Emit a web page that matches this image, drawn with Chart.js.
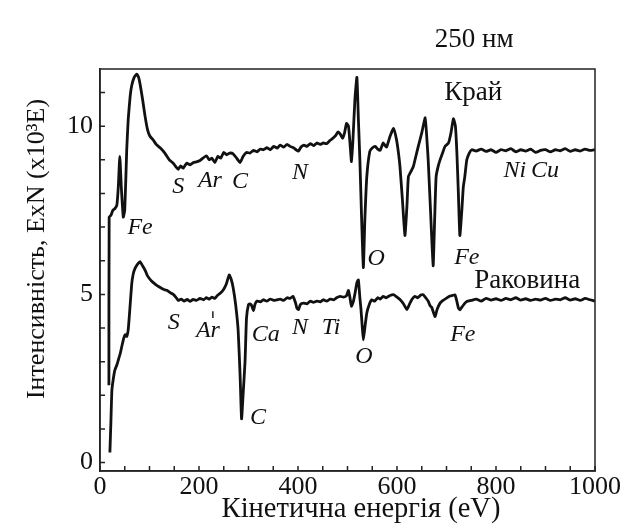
<!DOCTYPE html>
<html>
<head>
<meta charset="utf-8">
<script src="https://cdn.jsdelivr.net/npm/chart.js@4"></script>
<style>
html, body { margin: 0; padding: 0; background: #fff; }
</style>
</head>
<body>
<canvas id="spektr" width="627" height="525"></canvas>
<script>
// Край (edge) - energy (eV) and intensity (x10^3)
const energiaKrai = [18, 18.5, 22, 26, 30, 34, 37, 40, 43, 47, 50, 54, 57, 61, 64, 69, 74, 78, 81, 86, 91, 96, 101, 107, 114, 122, 131, 140, 148, 153, 158, 163, 168, 175, 182, 189, 195, 202, 208, 215, 221, 226, 232, 238, 244, 250, 256, 262, 269, 276, 283, 289, 296, 303, 310, 317, 324, 330, 337, 344, 351, 358, 364, 371, 378, 384, 391, 396, 401, 406, 412, 418, 425, 432, 438, 445, 451, 458, 465, 471, 476, 481, 486, 490, 494, 498, 502, 505, 508, 511, 515, 519, 522, 525, 528, 532, 535, 539, 545, 550, 556, 561, 566, 572, 576, 579, 586, 593, 599, 603, 606, 611, 616, 620, 623, 628, 633, 638, 643, 650, 657, 660, 663, 668, 673, 676, 679, 683, 687, 692, 697, 704, 709, 714, 718, 721, 724, 727, 731, 734, 737, 741, 746, 751, 760, 770, 780, 790, 800, 810, 820, 830, 840, 850, 860, 870, 880, 890, 900, 910, 920, 930, 940, 950, 960, 970, 980, 990, 1000];
const intensKrai = [2.3, 7.3, 7.35, 7.5, 7.55, 7.65, 8.2, 9.1, 8.2, 7.3, 7.5, 9.3, 10.2, 10.9, 11.2, 11.45, 11.55, 11.45, 11.25, 10.8, 10.3, 9.9, 9.7, 9.6, 9.45, 9.35, 9.2, 9.0, 8.9, 8.8, 8.72, 8.82, 8.75, 8.9, 8.85, 8.92, 8.94, 8.98, 9.05, 9.12, 9.0, 9.05, 8.92, 9.1, 9.05, 9.22, 9.15, 9.2, 9.18, 9.05, 8.92, 9.1, 9.22, 9.2, 9.28, 9.24, 9.32, 9.3, 9.36, 9.3, 9.4, 9.35, 9.44, 9.38, 9.46, 9.4, 9.36, 9.3, 9.26, 9.38, 9.44, 9.4, 9.48, 9.42, 9.5, 9.46, 9.5, 9.48, 9.58, 9.65, 9.72, 9.83, 9.75, 9.64, 9.8, 10.08, 10.0, 9.5, 8.95, 9.6, 10.8, 11.45, 10.2, 9.0, 7.5, 5.8, 7.2, 8.5, 9.25, 9.35, 9.4, 9.32, 9.28, 9.5, 9.42, 9.38, 9.7, 9.93, 9.6, 9.2, 8.8, 7.8, 6.75, 7.6, 8.5, 8.65, 8.8, 9.1, 9.4, 9.8, 10.25, 9.7, 9.0, 7.4, 5.85, 7.2, 8.5, 8.8, 9.0, 9.2, 9.4, 9.5, 9.8, 10.22, 10.0, 9.2, 8.0, 6.75, 7.5, 8.2, 8.5, 9.0, 9.2, 9.3, 9.26, 9.32, 9.25, 9.3, 9.22, 9.3, 9.27, 9.33, 9.24, 9.3, 9.26, 9.32, 9.22, 9.28, 9.3, 9.24, 9.3, 9.27, 9.33, 9.25, 9.3, 9.26, 9.32, 9.28, 9.3];

// Раковина (shell)
const energiaRakovyna = [20, 22, 24, 27, 30, 34, 37, 41, 44, 48, 51, 54, 57, 60, 64, 67, 71, 76, 81, 86, 91, 96, 104, 112, 120, 128, 135, 142, 148, 153, 158, 164, 170, 176, 182, 188, 195, 202, 209, 215, 221, 226, 232, 238, 244, 249, 255, 261, 265, 269, 274, 279, 283, 286, 289, 293, 296, 300, 303, 306, 310, 313, 317, 324, 330, 337, 344, 351, 358, 364, 371, 378, 384, 390, 395, 398, 401, 405, 411, 418, 425, 431, 438, 445, 451, 458, 465, 472, 478, 485, 492, 498, 502, 505, 508, 512, 516, 519, 522, 525, 527, 530, 532, 535, 539, 544, 549, 555, 561, 566, 572, 578, 585, 593, 600, 606, 613, 620, 625, 630, 636, 642, 648, 653, 658, 663, 667, 670, 674, 677, 681, 687, 693, 700, 707, 712, 717, 720, 724, 727, 731, 736, 741, 750, 760, 770, 780, 790, 800, 810, 820, 830, 840, 850, 860, 870, 880, 890, 900, 910, 920, 930, 940, 950, 960, 970, 980, 990, 1000];
const intensRakovyna = [0.3, 1.2, 2.15, 2.5, 2.75, 2.9, 3.05, 3.25, 3.45, 3.7, 3.8, 3.75, 3.95, 4.5, 5.3, 5.6, 5.78, 5.9, 5.97, 5.85, 5.72, 5.55, 5.4, 5.3, 5.22, 5.15, 5.12, 5.05, 5.0, 4.92, 4.82, 4.86, 4.8, 4.85, 4.79, 4.85, 4.82, 4.88, 4.84, 4.9, 4.86, 4.92, 4.88, 4.98, 5.05, 5.13, 5.3, 5.58, 5.45, 5.2, 4.7, 3.95, 2.6, 1.3, 2.0, 3.0, 4.3, 4.7, 4.72, 4.68, 4.52, 4.7, 4.8, 4.78, 4.84, 4.8, 4.86, 4.82, 4.84, 4.86, 4.82, 4.9, 4.88, 4.94, 4.75, 4.58, 4.55, 4.7, 4.74, 4.72, 4.8, 4.76, 4.8, 4.78, 4.84, 4.8, 4.86, 4.84, 4.9, 4.94, 4.92, 4.96, 5.12, 4.9, 4.65, 4.8, 5.1, 5.35, 5.43, 4.9, 4.6, 4.0, 3.65, 4.0, 4.45, 4.7, 4.84, 4.8, 4.9, 4.86, 4.94, 4.9, 4.96, 4.99, 4.92, 4.85, 4.72, 4.55, 4.7, 4.85, 4.94, 4.9, 4.98, 4.99, 4.9, 4.8, 4.66, 4.62, 4.45, 4.34, 4.55, 4.74, 4.82, 4.89, 4.95, 4.97, 4.99, 4.85, 4.6, 4.54, 4.62, 4.72, 4.79, 4.82, 4.86, 4.8, 4.88, 4.83, 4.87, 4.82, 4.88, 4.84, 4.9, 4.83, 4.87, 4.82, 4.86, 4.83, 4.88, 4.82, 4.86, 4.84, 4.9, 4.83, 4.87, 4.82, 4.88, 4.84, 4.8];

const ticksX = [0, 200, 400, 600, 800, 1000];
const ticksY = [0, 5, 10];

// підписи елементів (в координатах даних)
const elementos = [
    { t: 'Fe', e: 81, i: 6.97 }, { t: 'S', e: 158, i: 8.19 }, { t: 'Ar', e: 222, i: 8.37 },
    { t: 'C', e: 283, i: 8.34 }, { t: 'N', e: 404, i: 8.61 }, { t: 'O', e: 558, i: 6.05 },
    { t: 'Fe', e: 741, i: 6.08 }, { t: 'Ni', e: 838, i: 8.69 }, { t: 'Cu', e: 899, i: 8.69 },
    { t: 'S', e: 149, i: 4.15 }, { t: 'Ar', e: 218, i: 3.92 }, { t: 'Ca', e: 335, i: 3.8 },
    { t: 'N', e: 404, i: 4.0 }, { t: 'Ti', e: 467, i: 4.0 }, { t: 'C', e: 319, i: 1.34 },
    { t: 'O', e: 533, i: 3.15 }, { t: 'Fe', e: 733, i: 3.8 }
];
const nazvy = [
    { t: 'Край', e: 754, i: 10.98 }, { t: 'Раковина', e: 863, i: 5.40 }, { t: '250 нм', e: 756, i: 12.55 }
];
const tituloX = 'Кінетична енергія (eV)';
const tituloY = 'Інтенсивність, ExN (x10³E)';

const caixa = {
    id: 'caixa',
    afterDraw(chart) {
        const { ctx, chartArea: a, scales: { x, y } } = chart;
        ctx.save();
        ctx.strokeStyle = '#222';
        ctx.lineWidth = 1.5;
        ctx.strokeRect(a.left, a.top, a.right - a.left, a.bottom - a.top);
        ctx.beginPath();
        for (let v = 0; v <= 1000; v += 50) {
            let px = x.getPixelForValue(v);
            ctx.moveTo(px, a.bottom);
            ctx.lineTo(px, a.bottom - 5);
        }
        for (let v = 0; v <= 11; v++) {
            let py = y.getPixelForValue(v);
            ctx.moveTo(a.left, py);
            ctx.lineTo(a.left + 5, py);
        }
        // маленька риска над Ar
        ctx.moveTo(x.getPixelForValue(228), y.getPixelForValue(4.3));
        ctx.lineTo(x.getPixelForValue(228), y.getPixelForValue(4.5));
        ctx.stroke();

        ctx.fillStyle = '#111';
        ctx.textAlign = 'center';
        ctx.textBaseline = 'middle';
        ctx.font = 'italic 24px "Liberation Serif"';
        elementos.forEach(r => ctx.fillText(r.t, x.getPixelForValue(r.e), y.getPixelForValue(r.i)));
        ctx.font = '27px "Liberation Serif"';
        nazvy.forEach(r => ctx.fillText(r.t, x.getPixelForValue(r.e), y.getPixelForValue(r.i)));

        // назви осей
        ctx.font = '28.5px "Liberation Serif"';
        ctx.fillText(tituloX, a.left + 261, 510);
        ctx.translate(37, 249);
        ctx.rotate(-Math.PI / 2);
        ctx.font = '26px "Liberation Serif"';
        ctx.fillText(tituloY, 0, 0);
        ctx.restore();
    }
};

const fonte = { family: '"Liberation Serif"', size: 26 };

new Chart(document.getElementById('spektr').getContext('2d'), {
    type: 'line',
    data: {
        datasets: [{
            label: 'Край',
            data: energiaKrai.map((e, k) => ({ x: e, y: intensKrai[k] })),
            borderColor: '#111',
            borderWidth: 2.8,
            pointRadius: 0,
            tension: 0.15
        }, {
            label: 'Раковина',
            data: energiaRakovyna.map((e, k) => ({ x: e, y: intensRakovyna[k] })),
            borderColor: '#111',
            borderWidth: 2.8,
            pointRadius: 0,
            tension: 0.15
        }]
    },
    options: {
        responsive: false,
        animation: false,
        layout: { padding: { top: 69, right: 32, left: 0, bottom: 0 } },
        plugins: { legend: { display: false }, tooltip: { enabled: false } },
        scales: {
            x: {
                type: 'linear',
                min: 0,
                max: 1000,
                afterBuildTicks: s => { s.ticks = ticksX.map(v => ({ value: v })); },
                afterFit: s => { s.height = 54; },
                grid: { display: false, drawTicks: false, tickLength: 0 },
                border: { color: '#222', width: 1.5 },
                ticks: { color: '#111', font: fonte, padding: 1, maxRotation: 0, callback: v => String(v) }
            },
            y: {
                type: 'linear',
                min: -0.25,
                max: 11.7,
                afterBuildTicks: s => { s.ticks = ticksY.map(v => ({ value: v })); },
                afterFit: s => { s.width = 100; },
                grid: { display: false, drawTicks: false, tickLength: 0 },
                border: { color: '#222', width: 1.5 },
                ticks: { color: '#111', font: fonte, padding: 7, callback: v => String(v) }
            }
        }
    },
    plugins: [caixa]
});
</script>
</body>
</html>
